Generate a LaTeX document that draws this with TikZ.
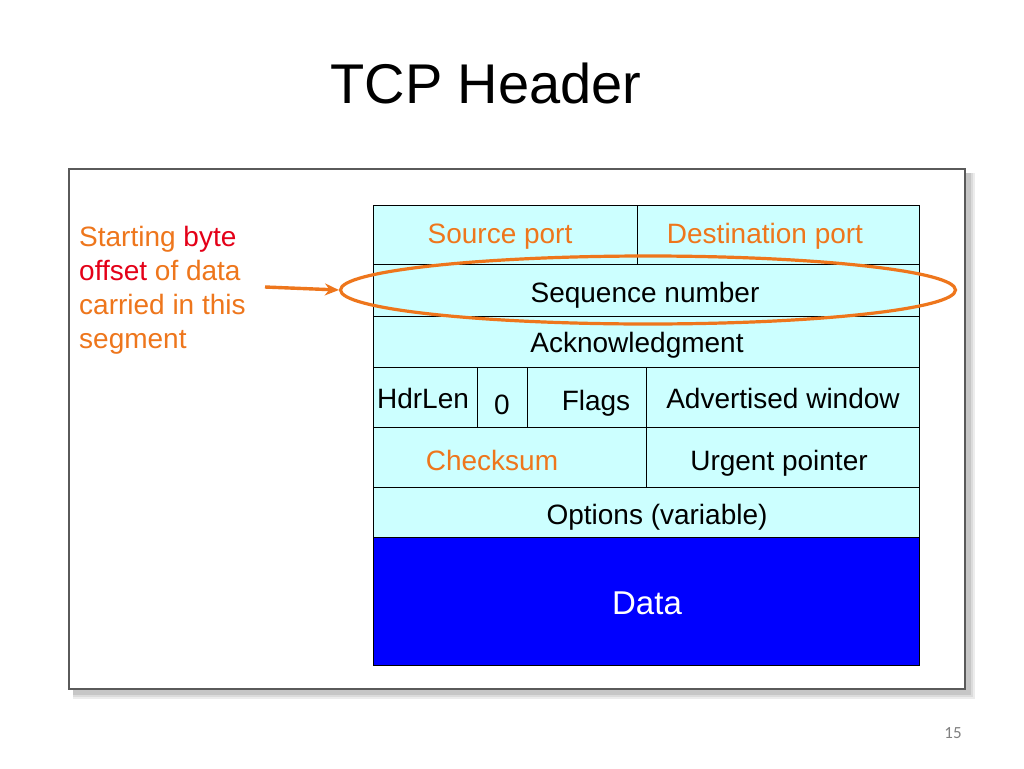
\documentclass[tikz,border=0pt]{standalone}
\usepackage{fontspec}
\setmainfont{Liberation Sans}
\newfontfamily\calibfont{Carlito}
\usetikzlibrary{shapes.geometric,arrows.meta}
\definecolor{cellcyan}{RGB}{204,255,255}
\definecolor{hiorange}{RGB}{238,118,28}
\definecolor{hired}{RGB}{228,0,24}
\definecolor{datablue}{RGB}{0,0,255}
\definecolor{framegray}{RGB}{90,90,90}
\definecolor{pagegray}{RGB}{128,128,128}
\begin{document}
\begin{tikzpicture}[x=1pt,y=-1pt,
  cell/.style={draw=black, line width=0.9pt, fill=cellcyan, inner sep=0pt, minimum width=#1},
  txt/.style={inner sep=0pt, text height=20pt, text depth=0pt, anchor=center, font=\fontsize{28}{34}\selectfont},
  otxt/.style={txt, text=hiorange},
]
\useasboundingbox (0,0) rectangle (1024,768);
\fill[white] (0,0) rectangle (1024,768);
% title
\node[inner sep=0pt, text height=40pt, text depth=0pt, font=\fontsize{56}{64}\selectfont] (title) at (486,83) {TCP Header};
% frame with shadow
\fill[gray!15] (73,173) rectangle (975,699);
\fill[gray!28] (73,173) rectangle (973,697);
\fill[gray!45] (73,173) rectangle (971,695);
\node[draw=framegray, line width=1.2pt, fill=white, inner sep=0pt, minimum width=896pt, minimum height=520pt] (frame) at (517,429) {};
% table cells
\node[cell=264pt, minimum height=59pt] (src) at (505,234.5) {};
\node[cell=282pt, minimum height=59pt] (dst) at (778,234.5) {};
\node[cell=546pt, minimum height=52pt] (seq) at (646,290) {};
\node[cell=546pt, minimum height=51pt] (ack) at (646,341.5) {};
\node[cell=104pt, minimum height=60pt] (hdr) at (425,397) {};
\node[cell=50pt, minimum height=60pt] (zero) at (502,397) {};
\node[cell=119pt, minimum height=60pt] (flags) at (586.5,397) {};
\node[cell=273pt, minimum height=60pt] (adv) at (782.5,397) {};
\node[cell=273pt, minimum height=60pt] (chk) at (509.5,457) {};
\node[cell=273pt, minimum height=60pt] (urg) at (782.5,457) {};
\node[cell=546pt, minimum height=50pt] (opt) at (646,512) {};
\node[cell=546pt, minimum height=128pt, fill=datablue] (data) at (646,601) {};
% cell texts
\node[otxt] (tsrc) at (500,233) {Source port};
\node[otxt] (tdst) at (765,233) {Destination port};
\node[txt] (tseq) at (645,292) {Sequence number};
\node[txt] (tack) at (637,342) {Acknowledgment};
\node[txt] (thdr) at (423,398) {HdrLen};
\node[txt] (tzero) at (502,404) {0};
\node[txt] (tflags) at (596,400) {Flags};
\node[txt] (tadv) at (783,398) {Advertised window};
\node[otxt] (tchk) at (492,460) {Checksum};
\node[txt] (turg) at (779,460) {Urgent pointer};
\node[txt] (topt) at (657,514) {Options (variable)};
\node[inner sep=0pt, text height=24pt, text depth=0pt, text=white, font=\fontsize{33}{40}\selectfont] (tdata) at (647,602) {Data};
% left annotation
\node[anchor=north west, inner sep=0pt, align=left, text=hiorange, font=\fontsize{28}{34}\selectfont] (note) at (79,226)
  {Starting \textcolor{hired}{byte}\\\textcolor{hired}{offset} of data\\carried in this\\segment};
% highlight ellipse and arrow
\node[ellipse, draw=hiorange, line width=3.2pt, inner sep=0pt, minimum width=615pt, minimum height=68pt] (ell) at (648,290) {};
\coordinate (astart) at (265,287);
\draw[hiorange, line width=3.4pt, -{Stealth[length=14pt,width=12pt]}] (astart) -- (ell.west);
% page number
\node[inner sep=0pt, text=pagegray, font=\calibfont\fontsize{17}{19}\selectfont] (pnum) at (953,733) {15};
\end{tikzpicture}
\end{document}
